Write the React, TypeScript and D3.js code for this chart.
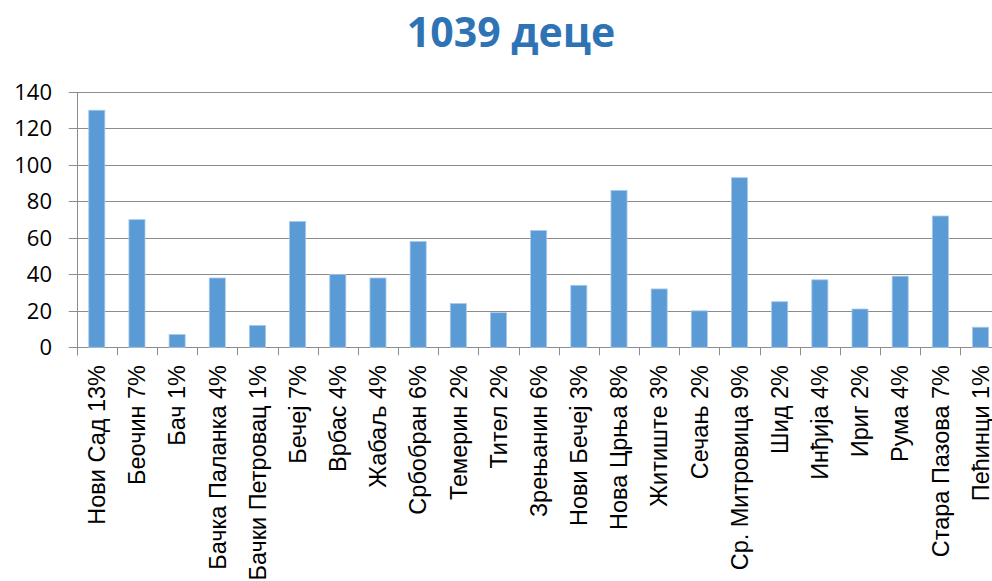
import React, { useEffect, useRef } from "react";
import * as d3 from "d3";

const categories = [
  "Нови Сад 13%", "Беочин 7%", "Бач 1%", "Бачка Паланка 4%", "Бачки Петровац 1%",
  "Бечеј 7%", "Врбас 4%", "Жабаљ 4%", "Србобран 6%", "Темерин 2%", "Тител 2%",
  "Зрењанин 6%", "Нови Бечеј 3%", "Нова Црња 8%", "Житиште 3%", "Сечањ 2%",
  "Ср. Митровица 9%", "Шид 2%", "Инђија 4%", "Ириг 2%", "Рума 4%",
  "Стара Пазова 7%", "Пећинци 1%",
];
const values = [130, 70, 7, 38, 12, 69, 40, 38, 58, 24, 19, 64, 34, 86, 32, 20, 93, 25, 37, 21, 39, 72, 11];
const yTicks = [0, 20, 40, 60, 80, 100, 120, 140];
const title = "1039 деце";

const W = 992;
const H = 581;

const App = () => {
  const ref = useRef<SVGSVGElement>(null);

  useEffect(() => {
    const svg = d3.select(ref.current);
    svg.selectAll("*").remove();

    const left = 76.7;
    const bandW = 40.17;
    const top = 92;
    const bottom = 347.3;

    const x = d3.scaleBand().domain(categories)
      .range([left, left + bandW * categories.length])
      .paddingInner(0.6).paddingOuter(0.3);
    const y = d3.scaleLinear().domain([0, 140]).range([bottom, top]);

    svg.append("text")
      .attr("x", 511).attr("y", 47)
      .attr("text-anchor", "middle")
      .style("font-family", "'Open Sans', sans-serif")
      .style("font-weight", "bold")
      .style("font-size", "41px")
      .attr("fill", "#2E74B5")
      .text(title);

    // gridlines
    svg.append("g").selectAll("line").data(yTicks).enter().append("line")
      .attr("x1", left - 8).attr("x2", W)
      .attr("y1", (d) => Math.round(y(d)) + 0.5).attr("y2", (d) => Math.round(y(d)) + 0.5)
      .attr("stroke", "#8c8c8c").attr("stroke-width", 1);

    // y labels
    svg.append("g").selectAll("text").data(yTicks).enter().append("text")
      .attr("x", 52).attr("y", (d) => y(d))
      .attr("dy", "0.36em")
      .attr("text-anchor", "end")
      .style("font-family", "'Open Sans', sans-serif")
      .style("font-size", "22px")
      .attr("fill", "#000")
      .text((d) => d);

    // bars
    svg.append("g").selectAll("rect").data(values).enter().append("rect")
      .attr("x", (d, i) => x(categories[i])!)
      .attr("width", x.bandwidth())
      .attr("y", (d) => y(d))
      .attr("height", (d) => bottom - y(d))
      .attr("fill", "#5B9BD5")
      .attr("stroke", "#a9c9eb").attr("stroke-width", 0.8);

    // left axis
    svg.append("line")
      .attr("x1", Math.round(left) + 0.5).attr("x2", Math.round(left) + 0.5)
      .attr("y1", top).attr("y2", bottom + 8)
      .attr("stroke", "#8c8c8c");

    // x ticks
    const tickXs = d3.range(categories.length + 1).map((i) => left + i * bandW);
    svg.append("g").selectAll("line").data(tickXs).enter().append("line")
      .attr("x1", (d) => Math.round(d) + 0.5).attr("x2", (d) => Math.round(d) + 0.5)
      .attr("y1", bottom).attr("y2", bottom + 8)
      .attr("stroke", "#8c8c8c");

    // category labels
    svg.append("g").selectAll("text").data(categories).enter().append("text")
      .attr("transform", (d) => `translate(${x(d)! + x.bandwidth() / 2},365) rotate(-90)`)
      .attr("dy", "0.35em")
      .attr("text-anchor", "end")
      .style("font-family", "'Liberation Sans', Arial, sans-serif")
      .style("font-size", "23.5px")
      .attr("fill", "#000")
      .text((d) => d);
  }, []);

  return (
    <svg ref={ref} width={W} height={H}
      style={{ position: "absolute", left: 0, top: 0, background: "#fff" }} />
  );
};

export default App;
